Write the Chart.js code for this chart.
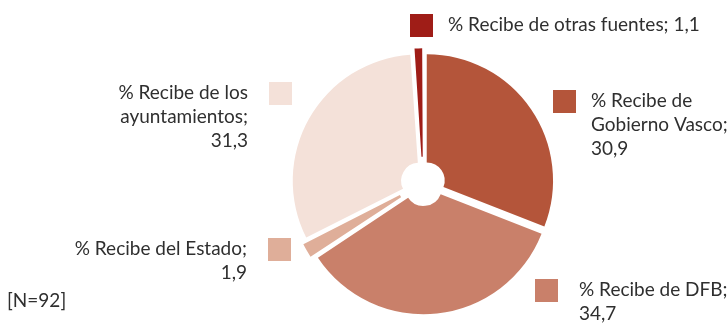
<!DOCTYPE html>
<html>
<head>
<meta charset="utf-8">
<script src="https://cdn.jsdelivr.net/npm/chart.js@4.4.1/dist/chart.umd.min.js"></script>
<style>
  html, body { margin: 0; padding: 0; background: #fff; }
  #wrap { width: 728px; height: 323px; }
</style>
</head>
<body>
<div id="wrap"><canvas id="myChart" width="728" height="323"></canvas></div>
<script>
// slice names, already broken into lines as they are printed
const categories = [
  ['% Recibe de', 'Gobierno Vasco;'],
  ['% Recibe de DFB;'],
  ['% Recibe del Estado;'],
  ['% Recibe de los', 'ayuntamientos;'],
  ['% Recibe de otras fuentes;']
];
const values = [30.9, 34.7, 1.9, 31.3, 1.1];
const colors = ['#B4553A', '#C9806A', '#DFAE99', '#F4E1D9', '#9F1D17'];
const note = '[N=92]';

// label boxes: angle in degrees from the top (clockwise), distance past the outer edge
const labelSpots = [
  { angle: 60,  dist: 37, side: 'right', gap: 15, inline: false },
  { angle: 131, dist: 38, side: 'right', gap: 21, inline: false },
  { angle: 245, dist: 32, side: 'left',  gap: 21, inline: false },
  { angle: 302, dist: 42, side: 'left',  gap: 21, inline: false },
  { angle: 359.6, dist: 32, side: 'right', gap: 15, inline: true }
];

const textColor = '#2f2f2f';
const font = '19px Lato';

function fmt(v) {
  return v.toFixed(1).replace('.', ',');
}

const sliceLabels = {
  id: 'sliceLabels',
  afterDatasetsDraw(chart) {
    const ctx = chart.ctx;
    const arcs = chart.getDatasetMeta(0).data;
    ctx.save();
    ctx.font = font;
    ctx.textBaseline = 'alphabetic';
    arcs.forEach((arc, i) => {
      const spot = labelSpots[i];
      const mid = (arc.startAngle + arc.endAngle) / 2;
      const a = spot.angle === null ? mid : (spot.angle - 90) * Math.PI / 180;
      const r = arc.outerRadius + spot.dist;
      const cx = arc.x + Math.cos(a) * r;
      const cy = arc.y + Math.sin(a) * r;
      const left = Math.round(cx - 11.5);
      const top = Math.round(cy - 11.5);
      ctx.fillStyle = colors[i];
      ctx.fillRect(left, top, 23, 23);

      let lines = categories[i].slice();
      if (spot.inline) {
        lines[lines.length - 1] += ' ' + fmt(values[i]);
      } else {
        lines.push(fmt(values[i]));
      }
      ctx.fillStyle = textColor;
      let tx;
      if (spot.side === 'right') {
        ctx.textAlign = 'left';
        tx = left + 23 + spot.gap;
      } else {
        ctx.textAlign = 'right';
        tx = left - spot.gap;
      }
      lines.forEach((ln, k) => {
        ctx.fillText(ln, tx, top + 11.5 + 5 + k * 24);
      });
    });
    ctx.textAlign = 'left';
    ctx.fillText(note, 7, 307);
    ctx.restore();
  }
};

new Chart(document.getElementById('myChart').getContext('2d'), {
  type: 'doughnut',
  data: {
    labels: categories.map(c => c.join(' ')),
    datasets: [{
      data: values,
      backgroundColor: colors,
      borderWidth: 0,
      offset: 18
    }]
  },
  options: {
    responsive: false,
    animation: false,
    cutout: '14%',
    layout: { padding: { top: 48, bottom: 5, left: 240, right: 122 } },
    plugins: {
      legend: { display: false },
      tooltip: { enabled: false }
    }
  },
  plugins: [sliceLabels]
});
</script>
</body>
</html>
